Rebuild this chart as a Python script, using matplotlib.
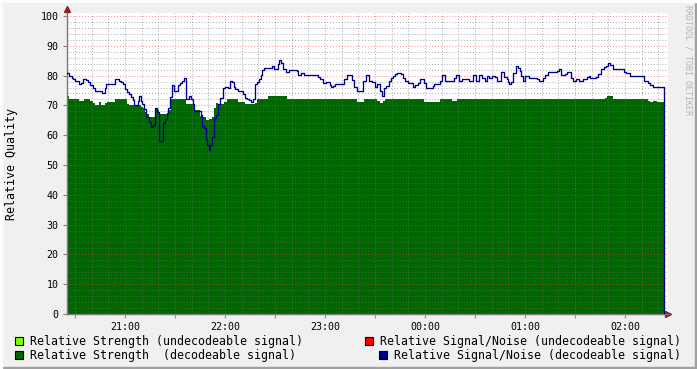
import matplotlib
matplotlib.use('Agg')
import matplotlib.pyplot as plt
from matplotlib.patches import Rectangle
from matplotlib.ticker import MultipleLocator, FixedLocator

# time axis: minutes after 20:00
snr_t = [25.2, 26.4, 28.0, 29.0, 29.8, 32.2, 33.4, 35.0, 36.6, 37.8, 39.0, 40.6, 41.8, 46.2, 47.8,
         48.6, 53.8, 56.2, 57.4, 58.6, 60.2, 61.0, 62.2, 63.4, 64.6, 65.4, 67.8, 68.6, 69.4, 70.2,
         71.4, 72.6, 73.8, 74.6, 75.8, 77.0, 78.2, 79.4, 80.6, 83.0, 84.2, 85.4, 86.0, 86.8, 88.0,
         89.6, 92.0, 93.2, 94.0, 95.2, 96.8, 98.4, 99.6, 100.8, 101.6, 105.6, 106.4, 107.6, 108.4,
         109.2, 110.4, 111.2, 112.4, 113.2, 114.4, 115.6, 117.2, 118.8, 120.0, 121.6, 123.2, 124.0,
         125.2, 126.0, 128.0, 130.8, 132.0, 133.2, 134.4, 135.6, 136.8, 138.0, 139.2, 140.4, 141.6,
         142.4, 143.6, 148.0, 149.4, 151.8, 152.6, 153.8, 155.0, 156.6, 158.6, 163.0, 163.8, 165.4,
         167.4, 175.8, 177.0, 179.0, 180.6, 181.4, 183.0, 183.8, 185.0, 186.2, 191.4, 193.0, 196.2,
         197.4, 199.0, 203.0, 204.6, 206.6, 208.2, 209.8, 211.0, 212.8, 214.0, 215.6, 216.8, 218.4,
         219.6, 220.8, 222.0, 223.2, 225.6, 226.8, 228.0, 230.0, 232.8, 234.0, 236.0, 236.8, 239.6,
         240.4, 244.8, 245.6, 248.8, 250.0, 252.0, 257.6, 258.8, 260.4, 262.4, 266.4, 268.8, 270.4,
         272.4, 274.4, 275.8, 277.4, 278.6, 280.2, 281.8, 283.4, 285.8, 287.4, 289.0, 289.8, 290.6,
         291.8, 293.0, 294.6, 295.8, 297.0, 297.8, 299.0, 300.2, 302.6, 307.0, 308.2, 311.0, 312.2,
         313.8, 319.0, 320.2, 321.8, 323.8, 325.4, 327.8, 329.0, 330.6, 332.2, 335.0, 337.4, 338.6,
         339.2, 342.8, 344.0, 345.6, 347.6, 348.8, 350.0, 351.2, 352.8, 359.2, 360.4, 362.8, 371.2,
         374.0, 375.2, 376.8, 383.2]
snr_v = [81.0, 79.7, 79.3, 78.9, 78.2, 77.2, 77.6, 79.0, 78.5, 77.9, 76.8, 75.7, 75.0, 74.2, 75.8,
         77.1, 79.0, 78.2, 77.7, 77.2, 75.4, 74.5, 73.8, 72.7, 71.8, 70.0, 71.6, 73.2, 71.6, 70.4,
         68.9, 66.2, 66.0, 64.3, 62.9, 63.5, 69.0, 67.9, 57.9, 64.0, 65.6, 67.3, 69.2, 72.7, 76.8,
         75.0, 76.8, 77.4, 78.3, 79.1, 72.0, 73.3, 72.0, 70.5, 68.0, 66.8, 63.1, 62.3, 58.7,
         56.7, 54.9, 56.6, 59.3, 65.8, 66.8, 70.6, 72.4, 75.8, 76.3, 75.8, 78.1, 77.8,
         76.3, 75.4, 75.0, 73.9, 72.5, 72.0, 71.7, 71.1, 72.0, 77.2, 78.0, 79.0, 80.1,
         81.9, 82.6, 83.3, 82.1, 83.8, 85.1, 84.1, 82.1, 81.1, 82.0, 81.5, 80.2, 81.0,
         80.1, 79.4, 78.9, 77.4, 77.8, 78.0, 77.0, 76.1, 76.6, 77.2, 78.7, 80.1, 78.5,
         76.3, 75.0, 78.1, 80.1, 78.3, 77.9, 76.3, 77.1, 74.9, 73.2, 75.7, 76.5, 78.2,
         79.1, 79.9, 80.4, 81.0, 80.4, 79.1, 78.2, 77.6, 76.3, 76.8, 77.6, 79.0, 77.5,
         76.0, 76.5, 77.2, 78.2, 80.1, 78.2, 79.1, 80.1, 78.2, 79.0, 78.2, 80.1, 78.2,
         80.1, 79.3, 78.2, 80.0, 79.3, 80.0, 79.5, 78.2, 81.1, 79.5, 79.0, 77.7, 77.1,
         78.0, 80.8, 83.1, 82.4, 81.5, 80.0, 78.2, 80.0, 79.3, 78.7, 78.2, 79.3, 80.2,
         81.1, 81.5, 82.1, 80.2, 80.6, 81.1, 79.3, 78.2, 78.9, 78.2, 78.9, 79.5, 80.0,
         79.3, 79.6, 80.4, 82.2, 82.8, 83.3, 84.1, 83.5, 82.2, 81.2, 80.9, 80.0, 78.3,
         77.4, 76.7, 76.2, 0.0]

str_t = [25.2, 26.4, 32.2, 35.4, 39.0, 40.6, 41.8, 44.2, 45.8, 47.8, 49.0, 53.8, 61.0, 62.2,
         67.8, 69.8, 71.0, 72.2, 73.4, 74.6, 78.2, 79.4, 80.6, 85.4, 85.6, 87.6, 96.8, 101.4,
         105.0, 106.4, 108.8, 110.4, 112.4, 113.6, 114.8, 116.0, 119.2, 121.2, 128.0, 132.0,
         138.0, 139.2, 146.0, 157.0, 199.0, 203.4, 211.0, 212.8, 214.8, 216.0, 239.6, 249.2,
         256.4, 259.2, 348.0, 349.2, 352.8, 374.0, 375.2, 377.0, 379.2, 383.2]
str_v = [73.2, 72.1, 71.6, 72.1, 71.6, 70.9, 70.2, 71.1, 70.2, 70.9, 71.1, 72.1, 70.6, 70.0,
         70.2, 69.6, 69.1, 67.7, 67.2, 66.0, 69.0, 68.4, 67.1, 67.3, 68.5, 72.0, 70.4, 68.5,
         66.6, 66.0, 65.1, 65.4, 66.0, 69.0, 70.7, 70.4, 71.0, 72.0, 71.2, 70.4,
         70.7, 72.0, 73.2, 72.1, 71.2, 72.1, 71.6, 70.7, 71.6, 72.1, 71.2, 72.1,
         71.6, 72.1, 72.6, 73.2, 72.1, 71.6, 71.2, 71.6, 71.2, 71.2]

hour_ticks = [60, 120, 180, 240, 300, 360]
hour_labels = ['21:00', '22:00', '23:00', '00:00', '01:00', '02:00']

legend_left = [('#80ff00', 'Relative Strength (undecodeable signal)'),
               ('#006600', 'Relative Strength  (decodeable signal)')]
legend_right = [('#ff0000', 'Relative Signal/Noise (undecodeable signal)'),
                ('#000090', 'Relative Signal/Noise (decodeable signal)')]

W, H = 697, 369
mono = 'DejaVu Sans Mono'

fig = plt.figure(figsize=(W / 100, H / 100), dpi=100, facecolor='#f0f0f0')
ax = fig.add_axes([67 / W, 55 / H, 601 / W, 301 / H])
ax.set_facecolor('white')

ax.fill_between(str_t, str_v, 0, step='post', color='#006600', lw=0, zorder=2)
ax.step(snr_t, snr_v, where='post', color='#000090', lw=0.95, zorder=3)

ax.set_xlim(25.2, 25.2 + 601 * 0.6)
ax.set_ylim(0, 301 / 2.98)

# grid: minor grey every 10 min / 2 units, major red every 30 min / 10 units
ax.xaxis.set_minor_locator(MultipleLocator(10))
ax.yaxis.set_minor_locator(MultipleLocator(2))
ax.xaxis.set_major_locator(MultipleLocator(30))
ax.yaxis.set_major_locator(FixedLocator(range(0, 101, 10)))
ax.grid(which='minor', color='#707070', alpha=0.6, lw=0.7, ls=(0, (1, 2)), zorder=4)
ax.grid(which='major', color='#ff4040', alpha=0.6, lw=0.7, ls=(0, (1, 2)), zorder=4)
ax.set_axisbelow(False)

ax.set_xticklabels([])
ax.tick_params(axis='x', which='major', length=3, color='#e07070')
ax.tick_params(axis='both', which='minor', length=0)
ax.tick_params(axis='y', which='major', length=3, color='#808080', pad=3,
               labelsize=7.2, labelfontfamily=mono)
for t, lab in zip(hour_ticks, hour_labels):
    ax.text(t, -4.5, lab, ha='center', va='center', fontsize=7.2, family=mono)

for s in ['top', 'right']:
    ax.spines[s].set_visible(False)
for s in ['left', 'bottom']:
    ax.spines[s].set_color('#7a7a7a')
    ax.spines[s].set_linewidth(1)
ax.plot([0], [1.012], marker='^', ms=4, color='#902020', transform=ax.transAxes, clip_on=False)
ax.plot([1.0], [0], marker='>', ms=4, color='#902020', transform=ax.transAxes, clip_on=False)

fig.text(12 / W, 1 - 164 / H, 'Relative Quality', rotation=90, ha='center', va='center',
         fontsize=8.4, family=mono)
fig.text(688 / W, 1 - 5 / H, 'RRDTOOL / TOBI OETIKER', rotation=270, ha='center', va='top',
         fontsize=6, family=mono, color='#b4b4b4')

# legend
rows_y = [341, 355]
for (c, lab), y in zip(legend_left, rows_y):
    fig.patches.append(Rectangle((15 / W, 1 - (y + 4) / H), 8 / W, 8 / H, transform=fig.transFigure,
                                 facecolor=c, edgecolor='black', lw=0.8))
    fig.text(30 / W, 1 - y / H, lab, ha='left', va='center', fontsize=8.4, family=mono)
for (c, lab), y in zip(legend_right, rows_y):
    fig.text(681 / W, 1 - y / H, lab, ha='right', va='center', fontsize=8.4, family=mono)
    x0 = 365 if y == rows_y[0] else 379
    fig.patches.append(Rectangle((x0 / W, 1 - (y + 4) / H), 8 / W, 8 / H, transform=fig.transFigure,
                                 facecolor=c, edgecolor='black', lw=0.8))

# 3d frame
fig.patches.append(Rectangle((0, 0), 1, 2 / H, transform=fig.transFigure, color='#a0a0a0'))
fig.patches.append(Rectangle((1 - 2 / W, 0), 2 / W, 1, transform=fig.transFigure, color='#a0a0a0'))
fig.patches.append(Rectangle((0, 1 - 2 / H), 1, 2 / H, transform=fig.transFigure, color='#fcfcfc'))
fig.patches.append(Rectangle((0, 0), 2 / W, 1, transform=fig.transFigure, color='#fcfcfc'))

fig.savefig('out.png', dpi=100, facecolor=fig.get_facecolor())
